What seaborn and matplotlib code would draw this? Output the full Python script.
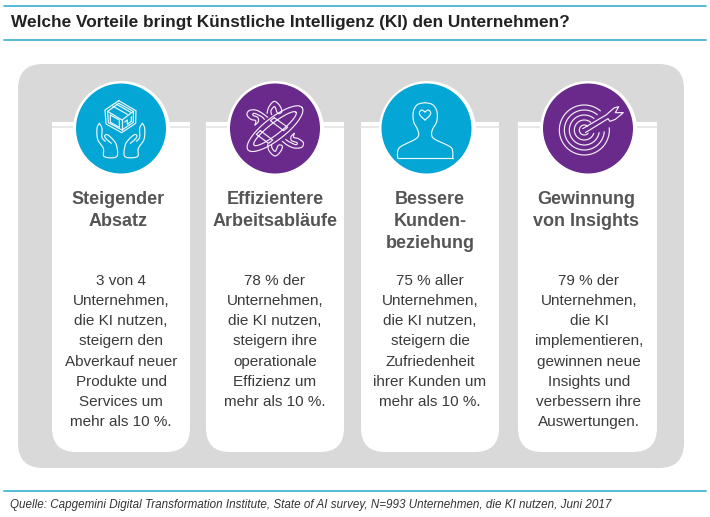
import numpy as np
import pandas as pd
import matplotlib
matplotlib.use("Agg")
import matplotlib.pyplot as plt
from matplotlib.patches import FancyBboxPatch, Rectangle
import seaborn as sns

title = "Welche Vorteile bringt Künstliche Intelligenz (KI) den Unternehmen?"
source = "Quelle: Capgemini Digital Transformation Institute, State of AI survey, N=993 Unternehmen, die KI nutzen, Juni 2017"

headings = [
    ["Steigender", "Absatz"],
    ["Effizientere", "Arbeitsabläufe"],
    ["Bessere", "Kunden-", "beziehung"],
    ["Gewinnung", "von Insights"],
]
bodies = [
    ["3 von 4", "Unternehmen,", "die KI nutzen,", "steigern den", "Abverkauf neuer",
     "Produkte und", "Services um", "mehr als 10 %."],
    ["78 % der", "Unternehmen,", "die KI nutzen,", "steigern ihre", "operationale",
     "Effizienz um", "mehr als 10 %."],
    ["75 % aller", "Unternehmen,", "die KI nutzen,", "steigern die", "Zufriedenheit",
     "ihrer Kunden um", "mehr als 10 %."],
    ["79 % der", "Unternehmen,", "die KI", "implementieren,", "gewinnen neue",
     "Insights und", "verbessern ihre", "Auswertungen."],
]
BLUE = "#04a6d6"
PURPLE = "#6a2a8c"
GREY = "#d9d9d9"
RULE = "#3aaed0"

card_left = [52, 206, 361, 518]
card_right = [190, 344, 499, 657]
heading_mid = [118.5, 275, 430, 586]
body_mid = [121, 275, 430, 589]
circle_x = [121, 275, 426.5, 588]
circle_col = [BLUE, PURPLE, BLUE, PURPLE]

sns.set_theme(style="white")
plt.rcParams["font.family"] = ["Liberation Sans", "DejaVu Sans"]

fig = plt.figure(figsize=(7.10, 5.17), dpi=100)
ax = fig.add_axes([0, 0, 1, 1])


def smooth(pts, n=8):
    # catmull-rom through the points, so the icon outlines are not angular
    p = np.array(pts, dtype=float)
    p = np.vstack([p[0], p, p[-1]])
    out = []
    for i in range(1, len(p) - 2):
        for t in np.linspace(0, 1, n, endpoint=False):
            out.append(0.5 * (2 * p[i] + (p[i + 1] - p[i - 1]) * t
                              + (2 * p[i - 1] - 5 * p[i] + 4 * p[i + 1] - p[i + 2]) * t ** 2
                              + (3 * p[i] - p[i - 1] - 3 * p[i + 1] + p[i + 2]) * t ** 3))
    out.append(p[-2])
    return np.array(out)


def draw(ox, pts, curve=False, lw=0.85):
    # icon points are given in 3x crop pixels
    a = np.array(pts, dtype=float)
    if curve:
        a = smooth(a)
    ax.plot(ox + a[:, 0] / 3, 80 + a[:, 1] / 3, color="white", lw=lw, alpha=0.92,
            solid_joinstyle="round", solid_capstyle="round", zorder=6)


def ellipse_pts(cx, cy, a, b, deg):
    t = np.radians(np.linspace(0, 360, 90))
    r = np.radians(deg)
    x, y = a * np.cos(t), b * np.sin(t)
    return np.c_[cx + x * np.cos(r) - y * np.sin(r), cy + x * np.sin(r) + y * np.cos(r)]


def box_icon():
    ox = 70
    draw(ox, [(146, 62), (198, 92), (197, 130), (155, 158), (108, 132), (105, 90), (146, 62)])
    draw(ox, [(146, 70), (190, 94), (190, 127), (156, 150), (115, 128), (113, 94), (146, 70)])
    draw(ox, [(113, 94), (156, 120), (190, 94)])
    draw(ox, [(156, 120), (156, 150)])
    draw(ox, [(128, 78), (172, 103)])
    draw(ox, [(138, 72), (182, 97)])
    draw(ox, [(121, 105), (148, 120), (148, 142), (121, 127), (121, 105)])
    draw(ox, [(164, 126), (172, 120), (172, 133), (184, 124), (184, 110)])
    for mirror in [False, True]:
        hand = [(88, 130), (81, 145), (83, 178), (100, 205), (103, 230), (140, 230), (140, 198),
                (130, 180), (112, 164), (104, 168), (110, 178), (124, 190)]
        thumb = [(88, 130), (96, 145), (96, 172), (106, 184)]
        for part in [hand, thumb]:
            p = [(305 - x, y) if mirror else (x, y) for x, y in part]
            draw(ox, p, curve=True)


def atom_icon():
    ox = 225
    draw(ox, ellipse_pts(150, 146, 103, 33, -38))
    draw(ox, ellipse_pts(150, 146, 80, 17, -38))
    # orbit ribbon with hooked ends
    draw(ox, [(90, 135), (92, 122), (78, 118), (66, 105), (72, 92), (92, 90), (112, 100), (128, 112)], curve=True)
    draw(ox, [(90, 135), (100, 125), (98, 112), (84, 106), (88, 100), (110, 110), (118, 118)], curve=True)
    draw(ox, [(208, 160), (206, 172), (220, 176), (235, 188), (230, 202), (208, 204), (188, 196), (172, 184)], curve=True)
    draw(ox, [(208, 160), (198, 170), (200, 182), (216, 188), (212, 194), (190, 184), (182, 178)], curve=True)
    # bars in the middle
    draw(ox, [(148, 113), (188, 142), (176, 152), (136, 122), (148, 113)])
    draw(ox, [(106, 152), (143, 180), (131, 190), (94, 163), (106, 152)])
    # top and bottom loops
    draw(ox, [(126, 100), (132, 80), (148, 64), (165, 78), (170, 96), (158, 100), (149, 80), (138, 92), (140, 104)], curve=True)
    draw(ox, [(128, 192), (132, 212), (150, 228), (167, 214), (172, 198), (160, 196), (151, 214), (141, 204), (140, 194)], curve=True)


def head_icon():
    ox = 380
    draw(ox, [(135, 68), (112, 74), (100, 95), (101, 125), (112, 147), (116, 165), (105, 178), (62, 200),
              (53, 215), (53, 235)], curve=True)
    draw(ox, [(135, 68), (158, 74), (171, 95), (170, 125), (158, 147), (155, 165), (165, 178), (210, 200),
              (218, 215), (218, 235)], curve=True)
    draw(ox, [(53, 235), (218, 235)])
    draw(ox, [(135, 120), (122, 108), (118, 98), (125, 90), (135, 96)], curve=True)
    draw(ox, [(135, 120), (148, 108), (152, 98), (145, 90), (135, 96)], curve=True)


def target_icon():
    ox = 540
    cx, cy = 133, 150
    for r, t0 in [(75, -5), (60, 5), (45, 10), (30, 20), (15, 40)]:
        t = np.radians(np.linspace(t0, 310, 70))
        draw(ox, np.c_[cx + r * np.cos(t), cy + r * np.sin(t)])
    draw(ox, [(128, 146), (198, 105), (222, 84), (236, 80), (226, 98), (250, 98), (226, 118),
              (210, 124), (204, 116), (136, 158)])


icons = [box_icon, atom_icon, head_icon, target_icon]

# top and bottom rules
for y in [6, 40, 490.5]:
    ax.plot([4, 706], [y, y], color=RULE, lw=1.2, zorder=2)
ax.text(11, 23, title, fontsize=12.4, fontweight="bold", color="#222222", va="center", ha="left")
ax.text(10, 505, source, fontsize=8.35, style="italic", color="#333333", va="center", ha="left")

# grey panel
ax.add_patch(FancyBboxPatch((18, 64), 666, 404, boxstyle="round,pad=0,rounding_size=25",
                            fc=GREY, ec="none", zorder=1))

# cards
for i in range(4):
    l, r = card_left[i], card_right[i]
    ax.add_patch(FancyBboxPatch((l, 95), r - l, 357, boxstyle="round,pad=0,rounding_size=24",
                                fc="white", ec="none", zorder=2))
    ax.add_patch(Rectangle((l, 90), r - l, 32, fc=GREY, ec="none", zorder=3))
    ax.plot([l, r], [127, 127], color="#e4e4e4", lw=1.2, zorder=3)

# circles through seaborn
circles = pd.DataFrame({"x": circle_x, "y": 128.5, "col": circle_col})
sns.scatterplot(data=circles, x="x", y="y", s=(97 * 0.72) ** 2, color="white",
                linewidth=0, ax=ax, zorder=4, legend=False)
sns.scatterplot(data=circles, x="x", y="y", hue="col", palette={BLUE: BLUE, PURPLE: PURPLE},
                s=(90 * 0.72) ** 2, linewidth=0, ax=ax, zorder=5, legend=False)

for i in range(4):
    icons[i]()
    for k, s in enumerate(headings[i]):
        ax.text(heading_mid[i], 200 + 21.8 * k, s, fontsize=13, fontweight="bold", color="#555555",
                ha="center", va="center")
    for k, s in enumerate(bodies[i]):
        ax.text(body_mid[i], 281 + 20.15 * k, s, fontsize=11, color="#3a3a3a", ha="center", va="center")

ax.set_xlim(0, 710)
ax.set_ylim(517, 0)
ax.axis("off")
fig.savefig("out.png", dpi=100)
